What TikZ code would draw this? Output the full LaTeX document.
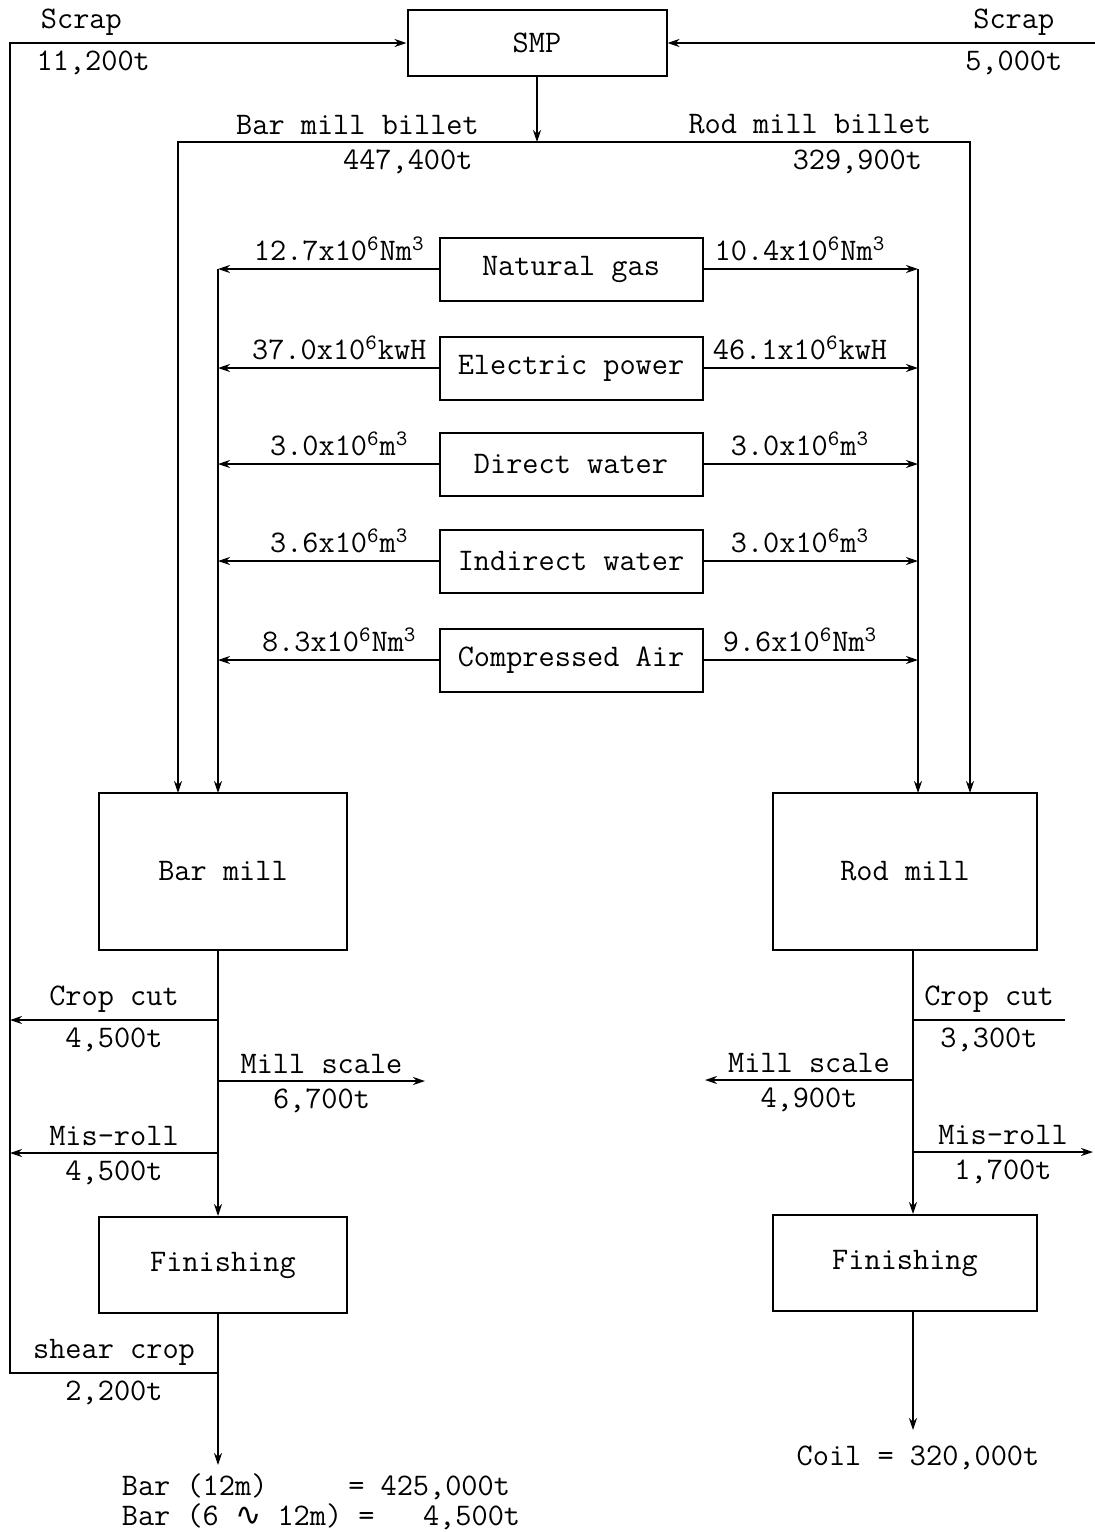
\documentclass[tikz,border=0pt]{standalone}
\usepackage{fontspec}
\newfontfamily\wavefont{DejaVu Sans}
\usetikzlibrary{arrows.meta,positioning}
\newcommand{\pw}[1]{\textsuperscript{#1}}

\begin{document}
\begin{tikzpicture}[
  x=0.5pt,y=-0.5pt,
  font=\ttfamily\fontsize{15.7pt}{15pt}\selectfont,
  unit/.style={draw,line width=1pt,inner sep=0pt,minimum width=131.5pt,minimum height=31.5pt},
  mill/.style={draw,line width=1pt,inner sep=0pt,minimum height=78.5pt},
  fin/.style={draw,line width=1pt,inner sep=0pt,minimum height=48pt},
  flow/.style={line width=1pt},
  feed/.style={flow,-{Stealth[length=6pt,width=4pt]}}
]
  \useasboundingbox (0,0) rectangle (1095,1532);

  \node[draw,line width=1pt,minimum width=129.5pt,minimum height=33pt] (smp) at (537,43) {SMP};
  \node[unit] (gas) at (571,269) {Natural gas};
  \node[unit] (elec) at (571,368) {Electric power};
  \node[unit] (dwater) at (571,464) {Direct water};
  \node[unit] (iwater) at (571,561) {Indirect water};
  \node[unit] (air) at (571,660) {Compressed Air};
  \node[mill,minimum width=124pt] (barmill) at (223,871) {Bar mill};
  \node[mill,minimum width=132pt] (rodmill) at (905,871) {Rod mill};
  \node[fin,minimum width=124pt] (barfin) at (223,1265) {Finishing};
  \node[fin,minimum width=132pt] (rodfin) at (905,1263) {Finishing};

  % free ends
  \coordinate (bx) at (218,0);
  \coordinate (rx) at (913,0);
  \coordinate (split) at (537,142);
  \coordinate (barin) at (178,793);
  \coordinate (rodin) at (970,793);
  \coordinate (barbus) at (218,793);
  \coordinate (rodbus) at (918,793);
  \coordinate (ltop) at (10,43);
  \coordinate (rscrap) at (1095,43);
  \coordinate (cropL) at (218,1020);
  \coordinate (cropLout) at (10,1020);
  \coordinate (scaleL) at (218,1081);
  \coordinate (scaleLout) at (425,1081);
  \coordinate (missL) at (218,1153);
  \coordinate (missLout) at (10,1153);
  \coordinate (shear) at (218,1373);
  \coordinate (shearout) at (10,1373);
  \coordinate (barend) at (218,1465);
  \coordinate (cropR) at (913,1020);
  \coordinate (cropRout) at (1065,1020);
  \coordinate (scaleR) at (913,1080);
  \coordinate (scaleRout) at (705,1080);
  \coordinate (missR) at (913,1152);
  \coordinate (missRout) at (1093,1152);
  \coordinate (rodend) at (913,1430);

  % scrap back to SMP
  \draw[feed] (rscrap) -- node[pos=.19,above]{Scrap} node[pos=.19,below]{5,000t} (smp.east);
  \draw[feed] (shear) -- node[above]{shear crop} node[below]{2,200t} (shearout) -- (ltop)
    -- node[pos=.18,above]{Scrap} node[pos=.21,below]{11,200t} (smp.west);

  % billets
  \draw[feed] (smp) -- (split);
  \draw[feed] (split) -| node[pos=.25,above]{Bar mill billet} node[pos=.18,below]{447,400t} (barin);
  \draw[feed] (split) -| node[pos=.315,above]{Rod mill billet} node[pos=.37,below]{329,900t} (rodin);

  % utilities
  \draw[feed] (gas) -- node[pos=.45,above]{12.7x10\pw6Nm\pw3} (gas -| barbus);
  \draw[feed] (elec) -- node[pos=.45,above]{37.0x10\pw6kwH} (elec -| barbus);
  \draw[feed] (dwater) -- node[pos=.45,above]{3.0x10\pw6m\pw3} (dwater -| barbus);
  \draw[feed] (iwater) -- node[pos=.45,above]{3.6x10\pw6m\pw3} (iwater -| barbus);
  \draw[feed] (air) -- node[pos=.45,above]{8.3x10\pw6Nm\pw3} (air -| barbus);
  \draw[feed] (gas -| barbus) -- (barbus);
  \draw[feed] (gas) -- node[pos=.45,above]{10.4x10\pw6Nm\pw3} (gas -| rodbus);
  \draw[feed] (elec) -- node[pos=.45,above]{46.1x10\pw6kwH} (elec -| rodbus);
  \draw[feed] (dwater) -- node[pos=.45,above]{3.0x10\pw6m\pw3} (dwater -| rodbus);
  \draw[feed] (iwater) -- node[pos=.45,above]{3.0x10\pw6m\pw3} (iwater -| rodbus);
  \draw[feed] (air) -- node[pos=.45,above]{9.6x10\pw6Nm\pw3} (air -| rodbus);
  \draw[feed] (gas -| rodbus) -- (rodbus);

  % bar line
  \draw[feed] (barmill.south -| bx) -- (barfin.north -| bx);
  \draw[feed] (cropL) -- node[above]{Crop cut} node[below]{4,500t} (cropLout);
  \draw[feed] (scaleL) -- node[above]{Mill scale} node[below]{6,700t} (scaleLout);
  \draw[feed] (missL) -- node[above]{Mis-roll} node[below]{4,500t} (missLout);
  \draw[feed] (barfin.south -| bx) -- (barend);
  \node[align=left] (barout) at (321,1502)
    {Bar (12m)~~~~~= 425,000t\\Bar (6 {\wavefont ∿} 12m) =~~~4,500t};

  % rod line
  \draw[feed] (rodmill.south -| rx) -- (rodfin.north -| rx);
  \draw[flow] (cropR) -- node[above]{Crop cut} node[below]{3,300t} (cropRout);
  \draw[feed] (scaleR) -- node[above]{Mill scale} node[below]{4,900t} (scaleRout);
  \draw[feed] (missR) -- node[above]{Mis-roll} node[below]{1,700t} (missRout);
  \draw[feed] (rodfin.south -| rx) -- (rodend);
  \node (coil) at (918,1458) {Coil = 320,000t};
\end{tikzpicture}
\end{document}
